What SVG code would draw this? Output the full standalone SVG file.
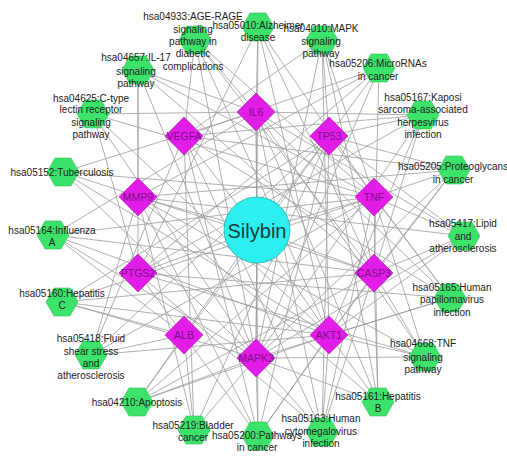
<svg xmlns="http://www.w3.org/2000/svg" xmlns:xlink="http://www.w3.org/1999/xlink" width="507" height="457" viewBox="0 0 507 457">
<style>
.e line{stroke:#9c9c9c;stroke-width:0.8}
.hx{fill:#3ce26a;stroke:#2fc45a;stroke-width:0.6}
.dm{fill:#e21de8;stroke:#c010c8;stroke-width:0.6}
text{font-family:"Liberation Sans",Arial,sans-serif;font-size:10px;fill:#222;text-anchor:middle;dominant-baseline:central}
.g text{fill:#7d1088;font-size:10.5px}
</style>
<defs>
<polygon id="hex" points="-16,0 -8,-14 8,-14 16,0 8,14 -8,14"/>
<polygon id="dia" points="0,-19 19,0 0,19 -19,0"/>
</defs>
<rect width="507" height="457" fill="#fff"/>
<g class="e" id="connectors">
<!-- Silybin to targets -->
<line x1="257" y1="230" x2="256" y2="112"/><line x1="257" y1="230" x2="329" y2="136"/><line x1="257" y1="230" x2="374" y2="197"/><line x1="257" y1="230" x2="374" y2="273"/><line x1="257" y1="230" x2="329" y2="335"/><line x1="257" y1="230" x2="256" y2="358"/><line x1="257" y1="230" x2="184" y2="335"/><line x1="257" y1="230" x2="138" y2="273"/><line x1="257" y1="230" x2="138" y2="197"/><line x1="257" y1="230" x2="184" y2="136"/>
<!-- AGE-RAGE -->
<line x1="195" y1="40" x2="256" y2="112"/><line x1="195" y1="40" x2="374" y2="197"/><line x1="195" y1="40" x2="374" y2="273"/><line x1="195" y1="40" x2="329" y2="335"/><line x1="195" y1="40" x2="256" y2="358"/><line x1="195" y1="40" x2="184" y2="136"/>
<!-- Alzheimer -->
<line x1="258" y1="27" x2="256" y2="112"/><line x1="258" y1="27" x2="374" y2="197"/><line x1="258" y1="27" x2="374" y2="273"/><line x1="258" y1="27" x2="329" y2="335"/><line x1="258" y1="27" x2="256" y2="358"/><line x1="258" y1="27" x2="138" y2="273"/>
<!-- MAPK -->
<line x1="322" y1="40" x2="329" y2="136"/><line x1="322" y1="40" x2="374" y2="197"/><line x1="322" y1="40" x2="374" y2="273"/><line x1="322" y1="40" x2="329" y2="335"/><line x1="322" y1="40" x2="256" y2="358"/><line x1="322" y1="40" x2="184" y2="136"/>
<!-- MicroRNAs -->
<line x1="379" y1="68" x2="329" y2="136"/><line x1="379" y1="68" x2="374" y2="273"/><line x1="379" y1="68" x2="256" y2="358"/><line x1="379" y1="68" x2="138" y2="273"/><line x1="379" y1="68" x2="138" y2="197"/><line x1="379" y1="68" x2="184" y2="136"/>
<!-- Kaposi -->
<line x1="423" y1="115" x2="256" y2="112"/><line x1="423" y1="115" x2="329" y2="136"/><line x1="423" y1="115" x2="374" y2="273"/><line x1="423" y1="115" x2="329" y2="335"/><line x1="423" y1="115" x2="256" y2="358"/><line x1="423" y1="115" x2="138" y2="273"/><line x1="423" y1="115" x2="184" y2="136"/>
<!-- Proteoglycans -->
<line x1="454" y1="170" x2="329" y2="136"/><line x1="454" y1="170" x2="374" y2="197"/><line x1="454" y1="170" x2="374" y2="273"/><line x1="454" y1="170" x2="329" y2="335"/><line x1="454" y1="170" x2="256" y2="358"/><line x1="454" y1="170" x2="138" y2="197"/><line x1="454" y1="170" x2="184" y2="136"/>
<!-- Lipid -->
<line x1="464" y1="236" x2="256" y2="112"/><line x1="464" y1="236" x2="329" y2="136"/><line x1="464" y1="236" x2="374" y2="197"/><line x1="464" y1="236" x2="374" y2="273"/><line x1="464" y1="236" x2="329" y2="335"/><line x1="464" y1="236" x2="256" y2="358"/><line x1="464" y1="236" x2="138" y2="197"/>
<!-- HPV -->
<line x1="450" y1="298" x2="256" y2="112"/><line x1="450" y1="298" x2="329" y2="136"/><line x1="450" y1="298" x2="374" y2="197"/><line x1="450" y1="298" x2="329" y2="335"/><line x1="450" y1="298" x2="256" y2="358"/><line x1="450" y1="298" x2="138" y2="273"/><line x1="450" y1="298" x2="184" y2="136"/>
<!-- TNF signaling -->
<line x1="425" y1="357" x2="256" y2="112"/><line x1="425" y1="357" x2="374" y2="197"/><line x1="425" y1="357" x2="374" y2="273"/><line x1="425" y1="357" x2="329" y2="335"/><line x1="425" y1="357" x2="256" y2="358"/><line x1="425" y1="357" x2="138" y2="273"/><line x1="425" y1="357" x2="138" y2="197"/>
<!-- Hepatitis B -->
<line x1="378" y1="402" x2="256" y2="112"/><line x1="378" y1="402" x2="329" y2="136"/><line x1="378" y1="402" x2="374" y2="197"/><line x1="378" y1="402" x2="374" y2="273"/><line x1="378" y1="402" x2="329" y2="335"/><line x1="378" y1="402" x2="256" y2="358"/><line x1="378" y1="402" x2="138" y2="197"/>
<!-- HCMV -->
<line x1="322" y1="432" x2="256" y2="112"/><line x1="322" y1="432" x2="329" y2="136"/><line x1="322" y1="432" x2="374" y2="197"/><line x1="322" y1="432" x2="374" y2="273"/><line x1="322" y1="432" x2="329" y2="335"/><line x1="322" y1="432" x2="256" y2="358"/><line x1="322" y1="432" x2="138" y2="273"/><line x1="322" y1="432" x2="184" y2="136"/>
<!-- Pathways in cancer -->
<line x1="258" y1="436" x2="256" y2="112"/><line x1="258" y1="436" x2="329" y2="136"/><line x1="258" y1="436" x2="374" y2="273"/><line x1="258" y1="436" x2="329" y2="335"/><line x1="258" y1="436" x2="256" y2="358"/><line x1="258" y1="436" x2="138" y2="273"/><line x1="258" y1="436" x2="138" y2="197"/><line x1="258" y1="436" x2="184" y2="136"/>
<!-- Bladder -->
<line x1="194" y1="430" x2="329" y2="136"/><line x1="194" y1="430" x2="256" y2="358"/><line x1="194" y1="430" x2="138" y2="197"/><line x1="194" y1="430" x2="184" y2="136"/><line x1="194" y1="430" x2="184" y2="335"/>
<!-- Apoptosis -->
<line x1="137" y1="402" x2="329" y2="136"/><line x1="137" y1="402" x2="374" y2="197"/><line x1="137" y1="402" x2="374" y2="273"/><line x1="137" y1="402" x2="329" y2="335"/><line x1="137" y1="402" x2="256" y2="358"/><line x1="137" y1="402" x2="184" y2="335"/>
<!-- Fluid shear -->
<line x1="91" y1="355" x2="329" y2="136"/><line x1="91" y1="355" x2="374" y2="197"/><line x1="91" y1="355" x2="329" y2="335"/><line x1="91" y1="355" x2="138" y2="197"/><line x1="91" y1="355" x2="184" y2="136"/><line x1="91" y1="355" x2="184" y2="335"/>
<!-- Hepatitis C -->
<line x1="62" y1="302" x2="329" y2="136"/><line x1="62" y1="302" x2="374" y2="197"/><line x1="62" y1="302" x2="374" y2="273"/><line x1="62" y1="302" x2="329" y2="335"/><line x1="62" y1="302" x2="256" y2="358"/><line x1="62" y1="302" x2="184" y2="335"/>
<!-- Influenza -->
<line x1="53" y1="235" x2="256" y2="112"/><line x1="53" y1="235" x2="374" y2="197"/><line x1="53" y1="235" x2="374" y2="273"/><line x1="53" y1="235" x2="329" y2="335"/><line x1="53" y1="235" x2="256" y2="358"/><line x1="53" y1="235" x2="184" y2="335"/>
<!-- Tuberculosis -->
<line x1="63" y1="172" x2="256" y2="112"/><line x1="63" y1="172" x2="374" y2="197"/><line x1="63" y1="172" x2="374" y2="273"/><line x1="63" y1="172" x2="329" y2="335"/><line x1="63" y1="172" x2="256" y2="358"/>
<!-- C-type lectin -->
<line x1="93" y1="114" x2="256" y2="112"/><line x1="93" y1="114" x2="374" y2="197"/><line x1="93" y1="114" x2="329" y2="335"/><line x1="93" y1="114" x2="256" y2="358"/><line x1="93" y1="114" x2="138" y2="273"/>
<!-- IL-17 -->
<line x1="138" y1="70" x2="256" y2="112"/><line x1="138" y1="70" x2="374" y2="197"/><line x1="138" y1="70" x2="374" y2="273"/><line x1="138" y1="70" x2="256" y2="358"/><line x1="138" y1="70" x2="138" y2="273"/><line x1="138" y1="70" x2="138" y2="197"/>
</g>
<g id="pathways">
<g id="n-age"><use xlink:href="#hex" href="#hex" class="hx" x="195" y="40"/><text x="193" y="16">hsa04933:AGE-RAGE</text><text x="193" y="29">signaling</text><text x="193" y="41">pathway in</text><text x="193" y="53">diabetic</text><text x="193" y="66">complications</text></g>
<g id="n-alz"><use xlink:href="#hex" href="#hex" class="hx" x="258" y="27"/><text x="258" y="25">hsa05010:Alzheimer</text><text x="258" y="37">disease</text></g>
<g id="n-mapk"><use xlink:href="#hex" href="#hex" class="hx" x="322" y="40"/><text x="321" y="28">hsa04010:MAPK</text><text x="321" y="41">signaling</text><text x="321" y="53">pathway</text></g>
<g id="n-mir"><use xlink:href="#hex" href="#hex" class="hx" x="379" y="68"/><text x="378" y="63">hsa05206:MicroRNAs</text><text x="378" y="76">in cancer</text></g>
<g id="n-kap"><use xlink:href="#hex" href="#hex" class="hx" x="423" y="115"/><text x="423" y="97">hsa05167:Kaposi</text><text x="423" y="109">sarcoma-associated</text><text x="423" y="122">herpesvirus</text><text x="423" y="134">infection</text></g>
<g id="n-pro"><use xlink:href="#hex" href="#hex" class="hx" x="454" y="170"/><text x="453" y="166">hsa05205:Proteoglycans</text><text x="453" y="179">in cancer</text></g>
<g id="n-lip"><use xlink:href="#hex" href="#hex" class="hx" x="464" y="236"/><text x="463" y="223">hsa05417:Lipid</text><text x="463" y="236">and</text><text x="463" y="248">atherosclerosis</text></g>
<g id="n-hpv"><use xlink:href="#hex" href="#hex" class="hx" x="450" y="298"/><text x="452" y="287">hsa05165:Human</text><text x="452" y="299">papillomavirus</text><text x="452" y="312">infection</text></g>
<g id="n-tnfs"><use xlink:href="#hex" href="#hex" class="hx" x="425" y="357"/><text x="423" y="343">hsa04668:TNF</text><text x="423" y="357">signaling</text><text x="423" y="369">pathway</text></g>
<g id="n-hepb"><use xlink:href="#hex" href="#hex" class="hx" x="378" y="402"/><text x="378" y="396">hsa05161:Hepatitis</text><text x="378" y="408">B</text></g>
<g id="n-hcmv"><use xlink:href="#hex" href="#hex" class="hx" x="322" y="432"/><text x="321" y="418">hsa05163:Human</text><text x="321" y="431">cytomegalovirus</text><text x="321" y="443">infection</text></g>
<g id="n-pic"><use xlink:href="#hex" href="#hex" class="hx" x="258" y="436"/><text x="257" y="435">hsa05200:Pathways</text><text x="257" y="447">in cancer</text></g>
<g id="n-bla"><use xlink:href="#hex" href="#hex" class="hx" x="194" y="430"/><text x="193" y="425">hsa05219:Bladder</text><text x="193" y="437">cancer</text></g>
<g id="n-apo"><use xlink:href="#hex" href="#hex" class="hx" x="137" y="402"/><text x="137" y="402">hsa04210:Apoptosis</text></g>
<g id="n-flu"><use xlink:href="#hex" href="#hex" class="hx" x="91" y="355"/><text x="91" y="338">hsa05418:Fluid</text><text x="91" y="351">shear stress</text><text x="91" y="363">and</text><text x="91" y="375">atherosclerosis</text></g>
<g id="n-hepc"><use xlink:href="#hex" href="#hex" class="hx" x="62" y="302"/><text x="62" y="293">hsa05160:Hepatitis</text><text x="62" y="305">C</text></g>
<g id="n-inf"><use xlink:href="#hex" href="#hex" class="hx" x="53" y="235"/><text x="52" y="230">hsa05164:Influenza</text><text x="52" y="242">A</text></g>
<g id="n-tb"><use xlink:href="#hex" href="#hex" class="hx" x="63" y="172"/><text x="62" y="172">hsa05152:Tuberculosis</text></g>
<g id="n-ctl"><use xlink:href="#hex" href="#hex" class="hx" x="93" y="114"/><text x="91" y="98">hsa04625:C-type</text><text x="91" y="109">lectin receptor</text><text x="91" y="122">signaling</text><text x="91" y="134">pathway</text></g>
<g id="n-il17"><use xlink:href="#hex" href="#hex" class="hx" x="138" y="70"/><text x="136" y="57">hsa04657:IL-17</text><text x="136" y="71">signaling</text><text x="136" y="83">pathway</text></g>
</g>
<g id="targets" class="g">
<g id="n-il6"><use xlink:href="#dia" href="#dia" class="dm" x="256" y="112"/><text x="256" y="112">IL6</text></g>
<g id="n-tp53"><use xlink:href="#dia" href="#dia" class="dm" x="329" y="136"/><text x="329" y="136">TP53</text></g>
<g id="n-tnf"><use xlink:href="#dia" href="#dia" class="dm" x="374" y="197"/><text x="374" y="197">TNF</text></g>
<g id="n-casp3"><use xlink:href="#dia" href="#dia" class="dm" x="374" y="273"/><text x="374" y="273">CASP3</text></g>
<g id="n-akt1"><use xlink:href="#dia" href="#dia" class="dm" x="329" y="335"/><text x="329" y="335">AKT1</text></g>
<g id="n-mapk3"><use xlink:href="#dia" href="#dia" class="dm" x="256" y="358"/><text x="256" y="358">MAPK3</text></g>
<g id="n-alb"><use xlink:href="#dia" href="#dia" class="dm" x="184" y="335"/><text x="184" y="335">ALB</text></g>
<g id="n-ptgs2"><use xlink:href="#dia" href="#dia" class="dm" x="138" y="273"/><text x="138" y="273">PTGS2</text></g>
<g id="n-mmp9"><use xlink:href="#dia" href="#dia" class="dm" x="138" y="197"/><text x="138" y="197">MMP9</text></g>
<g id="n-vegfa"><use xlink:href="#dia" href="#dia" class="dm" x="184" y="136"/><text x="184" y="136">VEGFA</text></g>
</g>
<g id="n-silybin"><circle cx="257" cy="230" r="33" fill="#2eefef" stroke="#1fb0b0" stroke-width="0.8"/><text x="257" y="231" style="font-size:20px;fill:#163c3c">Silybin</text></g>
</svg>
